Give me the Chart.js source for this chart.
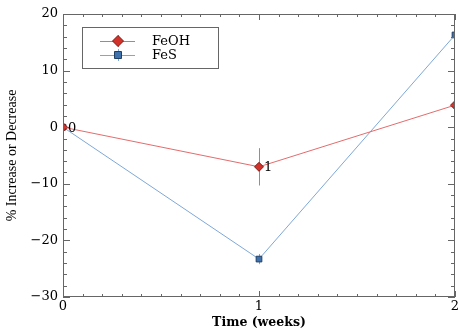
<!DOCTYPE html>
<html>
<head>
<meta charset="utf-8">
<script src="https://cdn.jsdelivr.net/npm/chart.js@4"></script>
<style>
  html, body { margin: 0; padding: 0; background: #fff; }
  #wrap { width: 458px; height: 332px; }
</style>
</head>
<body>
<div id="wrap"><canvas id="myChart" width="458" height="332"></canvas></div>
<script>
var weeks = [0, 1, 2];
var feohValues = [0, -7.0, 3.9];
var feohErrors = [0, 3.3, 0];
var fesValues = [0, -23.3, 16.3];
var fesErrors = [0, 0.9, 0];
var pointLabels = ['0', '1', ''];   // labels drawn next to FeOH points
var yTicks = [-30, -20, -10, 0, 10, 20];

var WIDE = '"DejaVu Serif", serif';
var NARROW = '"Liberation Serif", serif';

function toPoints(vals) {
    return weeks.map(function (w, i) { return { x: w, y: vals[i] }; });
}

// inward ticks on all four sides, plus the frame
var frameTicks = {
    id: 'frameTicks',
    afterDatasetsDraw: function (chart) {
        var c = chart.ctx, a = chart.chartArea;
        var xs = chart.scales.x, ys = chart.scales.y;
        c.save();
        c.strokeStyle = '#666';
        c.lineWidth = 1;
        c.strokeRect(a.left + 0.5, a.top + 0.5, a.right - a.left - 1, a.bottom - a.top - 1);
        c.beginPath();
        for (var i = 0; i <= 20; i++) {
            var v = i / 10;
            var px = Math.round(xs.getPixelForValue(v)) + 0.5;
            var len = (i % 10 === 0) ? 6 : 3;
            c.moveTo(px, a.bottom); c.lineTo(px, a.bottom - len);
            c.moveTo(px, a.top); c.lineTo(px, a.top + len);
        }
        for (var y = -30; y <= 20; y += 2) {
            var py = Math.round(ys.getPixelForValue(y)) + 0.5;
            var l = (y % 10 === 0) ? 7 : 4;
            c.moveTo(a.left, py); c.lineTo(a.left + l, py);
            c.moveTo(a.right, py); c.lineTo(a.right - l, py);
        }
        c.stroke();
        c.restore();
    }
};

// vertical error bars
var errorBars = {
    id: 'errorBars',
    beforeDatasetsDraw: function (chart) {
        var c = chart.ctx, xs = chart.scales.x, ys = chart.scales.y;
        var sets = [[feohValues, feohErrors, '#e36c6c'], [fesValues, fesErrors, '#7ea7d8']];
        c.save();
        c.lineWidth = 1;
        sets.forEach(function (s) {
            c.strokeStyle = s[2];
            weeks.forEach(function (w, i) {
                if (!s[1][i]) return;
                var px = Math.round(xs.getPixelForValue(w)) + 0.5;
                c.beginPath();
                c.moveTo(px, ys.getPixelForValue(s[0][i] + s[1][i]));
                c.lineTo(px, ys.getPixelForValue(s[0][i] - s[1][i]));
                c.stroke();
            });
        });
        c.restore();
    }
};

// numbers beside the FeOH points
var pointNumbers = {
    id: 'pointNumbers',
    afterDatasetsDraw: function (chart) {
        var c = chart.ctx, xs = chart.scales.x, ys = chart.scales.y;
        c.save();
        c.fillStyle = '#000';
        c.font = '13px ' + WIDE;
        c.textBaseline = 'middle';
        c.textAlign = 'left';
        weeks.forEach(function (w, i) {
            if (!pointLabels[i]) return;
            c.fillText(pointLabels[i], xs.getPixelForValue(w) + 5, ys.getPixelForValue(feohValues[i]) + 1);
        });
        c.restore();
    }
};

// boxed legend inside the plot
var boxLegend = {
    id: 'boxLegend',
    afterDraw: function (chart) {
        var c = chart.ctx;
        var x0 = 82, y0 = 27, w = 136, h = 41;
        c.save();
        c.fillStyle = '#fff';
        c.fillRect(x0, y0, w, h);
        c.strokeStyle = '#666';
        c.lineWidth = 1;
        c.strokeRect(x0 + 0.5, y0 + 0.5, w, h);
        chart.data.datasets.forEach(function (ds, i) {
            var cy = y0 + 14 + i * 14;
            var mx = x0 + 36;
            c.strokeStyle = ds.borderColor;
            c.beginPath();
            c.moveTo(x0 + 18, cy + 0.5); c.lineTo(x0 + 53, cy + 0.5);
            c.moveTo(mx + 0.5, cy - 6); c.lineTo(mx + 0.5, cy + 6);
            c.stroke();
            c.fillStyle = ds.pointBackgroundColor;
            c.strokeStyle = ds.pointBorderColor;
            c.lineWidth = 1;
            c.beginPath();
            var r = ds.pointRadius;
            if (ds.pointStyle === 'rectRot') {
                c.moveTo(mx, cy - r - 1); c.lineTo(mx + r + 1, cy);
                c.lineTo(mx, cy + r + 1); c.lineTo(mx - r - 1, cy);
            } else {
                c.rect(mx - r + 0.5, cy - r + 0.5, 2 * r - 1, 2 * r - 1);
            }
            c.closePath();
            c.fill(); c.stroke();
            c.fillStyle = '#000';
            c.font = '13px ' + WIDE;
            c.textBaseline = 'middle';
            c.fillText(ds.label, x0 + 70, cy + 1);
        });
        c.restore();
    }
};

var ctx = document.getElementById('myChart').getContext('2d');
var myChart = new Chart(ctx, {
    type: 'line',
    data: {
        datasets: [{
            label: 'FeOH',
            data: toPoints(feohValues),
            borderColor: '#e36c6c',
            borderWidth: 1,
            pointStyle: 'rectRot',
            pointRadius: 4.5,
            pointBackgroundColor: '#d3322b',
            pointBorderColor: '#7a1a16',
            pointBorderWidth: 1,
            tension: 0
        }, {
            label: 'FeS',
            data: toPoints(fesValues),
            borderColor: '#7ea7d8',
            borderWidth: 1,
            pointStyle: 'rect',
            pointRadius: 4,
            pointBackgroundColor: '#3f72ad',
            pointBorderColor: '#1e3f66',
            pointBorderWidth: 1,
            tension: 0
        }]
    },
    options: {
        responsive: false,
        animation: false,
        layout: { autoPadding: false, padding: { top: 14, right: 3, left: 0, bottom: 0 } },
        plugins: {
            legend: { display: false },
            tooltip: { enabled: false }
        },
        scales: {
            x: {
                type: 'linear',
                min: 0,
                max: 2,
                grid: { display: false, drawTicks: false },
                border: { display: false },
                afterFit: function (s) { s.height = 35; s.paddingLeft = 0; s.paddingRight = 0; },
                ticks: {
                    stepSize: 1,
                    padding: 2,
                    color: '#000',
                    font: { family: WIDE, size: 13 }
                },
                title: {
                    display: true,
                    text: 'Time (weeks)',
                    color: '#000',
                    font: { family: WIDE, size: 12.5, weight: 'bold' },
                    padding: { top: 0, bottom: 2 }
                }
            },
            y: {
                min: -30,
                max: 20,
                grid: { display: false, drawTicks: false },
                border: { display: false },
                afterFit: function (s) { s.width = 63; s.paddingTop = 0; s.paddingBottom = 0; },
                afterBuildTicks: function (s) {
                    s.ticks = yTicks.map(function (v) { return { value: v }; });
                },
                ticks: {
                    padding: 5,
                    color: '#000',
                    font: { family: WIDE, size: 13 },
                    callback: function (v) { return String(v).replace('-', '\u2212'); }
                },
                title: {
                    display: true,
                    text: '% Increase or Decrease',
                    color: '#000',
                    font: { family: NARROW, size: 14 },
                    padding: { top: 4, bottom: 0 }
                }
            }
        }
    },
    plugins: [errorBars, frameTicks, pointNumbers, boxLegend]
});
</script>
</body>
</html>
